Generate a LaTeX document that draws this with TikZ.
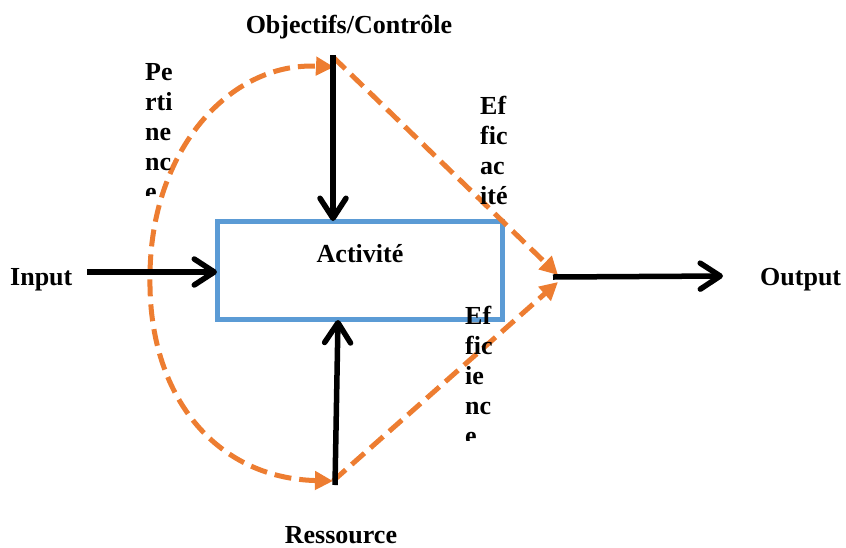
\documentclass[tikz,border=0pt]{standalone}
\usepackage{fontspec}
\setmainfont{Liberation Serif}
\usetikzlibrary{arrows.meta}
\definecolor{flowblue}{HTML}{5B9BD5}
\definecolor{evalorange}{HTML}{ED7D31}
\tikzset{
  label/.style={font=\fontsize{26}{30}\selectfont\bfseries, inner sep=0pt},
  stacked/.style={label, align=left, anchor=north west},
  activitybox/.style={draw=flowblue, line width=5pt},
  flow/.style={draw=black, line width=5.5pt, line cap=butt,
    -{Straight Barb[length=20pt,width=26pt,line join=round,line cap=round]}},
  evaldash/.style={draw=evalorange, line width=5pt, dash pattern=on 17pt off 8pt,
    -{Triangle[length=18pt,width=18pt]}}
}
\begin{document}
\begin{tikzpicture}[x=1pt,y=-1pt]
  \useasboundingbox (0,0) rectangle (846,547);

  % central activity box
  \draw[activitybox] (217.5,221.5) rectangle (502.5,319.5);
  \coordinate (boxW) at (217,272);
  \coordinate (boxN) at (333,221);
  \coordinate (boxS) at (338,320);
  \node[label, anchor=base] (act) at (360,262) {Activité};

  % outer labels
  \node[label, anchor=base] (obj) at (349,33) {Objectifs/Contrôle};
  \node[label, anchor=base west] (inp) at (10,285) {Input};
  \node[label, anchor=base west] (outp) at (760,285) {Output};
  \node[label, anchor=base] (res) at (341,543) {Ressource};

  % arrow end points
  \coordinate (inStart) at (87,272);
  \coordinate (topStart) at (333,55);
  \coordinate (botStart) at (335,485);
  \coordinate (outStart) at (553,277);
  \coordinate (outEnd) at (723,276);
  \coordinate (topJoin) at (334,67);
  \coordinate (botJoin) at (333,481);
  \coordinate (left) at (150,277);
  \coordinate (meet) at (558,275);
  \coordinate (meet2) at (558,282);

  % orange dashed evaluation paths
  \draw[evaldash, {Triangle[length=18pt,width=18pt]}-{Triangle[length=18pt,width=18pt]}]
    (botJoin) .. controls (215,478) and (148,395) .. (left)
              .. controls (150,150) and (230,62) .. (topJoin);
  \draw[evaldash] (333,57) -- (meet);
  \draw[evaldash] (botJoin) -- (meet2);

  % black flow arrows
  \draw[flow] (inStart) -- (boxW);
  \draw[flow] (topStart) -- (boxN);
  \draw[flow] (botStart) -- (boxS);
  \draw[flow] (outStart) -- (outEnd);

  % stacked labels, cut off at the bottom
  \begin{scope}
    \clip (130,40) rectangle (230,195);
    \node[stacked] (pert) at (145,63) {Pe\\rti\\ne\\nc\\e};
  \end{scope}
  \node[stacked] (effa) at (480,96) {Ef\\fic\\ac\\ité};
  \begin{scope}
    \clip (440,290) rectangle (560,440);
    \node[stacked] (effi) at (465,306) {Ef\\fic\\ie\\nc\\e};
  \end{scope}
\end{tikzpicture}
\end{document}
